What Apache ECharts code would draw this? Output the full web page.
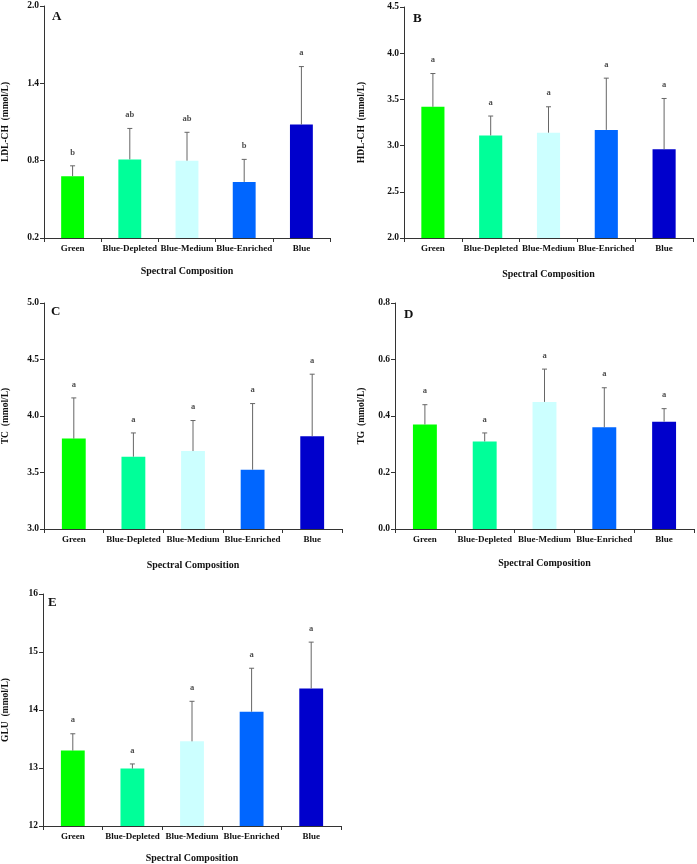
<!DOCTYPE html>
<html><head><meta charset="utf-8">
<script src="https://cdn.jsdelivr.net/npm/echarts@6/dist/echarts.min.js"></script>
<style>html,body{margin:0;padding:0;background:#fff}#c{width:697px;height:864px}</style>
</head><body><div id="c"></div>
<script>
const categories = ['Green','Blue-Depleted','Blue-Medium','Blue-Enriched','Blue'];
const barColors = ['#00ff00','#00ff99','#ccffff','#0066ff','#0000cc'];

const aMeans = [0.68, 0.81, 0.80, 0.635, 1.08];
const aErrTop = [0.76, 1.05, 1.02, 0.81, 1.53];
const aLetters = ['b','ab','ab','b','a'];
const aTicks = [0.2, 0.8, 1.4, 2.0];

const bMeans = [3.42, 3.11, 3.14, 3.17, 2.96];
const bErrTop = [3.78, 3.32, 3.42, 3.73, 3.51];
const bLetters = ['a','a','a','a','a'];
const bTicks = [2.0, 2.5, 3.0, 3.5, 4.0, 4.5];

const cMeans = [3.80, 3.64, 3.69, 3.525, 3.82];
const cErrTop = [4.16, 3.85, 3.96, 4.11, 4.37];
const cLetters = ['a','a','a','a','a'];
const cTicks = [3.0, 3.5, 4.0, 4.5, 5.0];

const dMeans = [0.37, 0.31, 0.45, 0.36, 0.38];
const dErrTop = [0.44, 0.34, 0.566, 0.50, 0.426];
const dLetters = ['a','a','a','a','a'];
const dTicks = [0.0, 0.2, 0.4, 0.6, 0.8];

const eMeans = [13.30, 12.99, 13.46, 13.97, 14.37];
const eErrTop = [13.59, 13.07, 14.15, 14.72, 15.17];
const eLetters = ['a','a','a','a','a'];
const eTicks = [12, 13, 14, 15, 16];

const panels = [
  {id:'A', yName:'LDL-CH  (mmol/L)', means:aMeans, err:aErrTop, letters:aLetters, ticks:aTicks, dec:1,
   grid:{left:40, top:6, width:290, height:232}, yGap:33, xGap:28, tag:[57,17]},
  {id:'B', yName:'HDL-CH  (mmol/L)', means:bMeans, err:bErrTop, letters:bLetters, ticks:bTicks, dec:1,
   grid:{left:404, top:7, width:289, height:231}, yGap:37, xGap:31, tag:[418,19]},
  {id:'C', yName:'TC  (mmol/L)', means:cMeans, err:cErrTop, letters:cLetters, ticks:cTicks, dec:1,
   grid:{left:40, top:303, width:302, height:226}, yGap:33, xGap:31, tag:[56,312]},
  {id:'D', yName:'TG  (mmol/L)', means:dMeans, err:dErrTop, letters:dLetters, ticks:dTicks, dec:1,
   grid:{left:395, top:303, width:299, height:226}, yGap:28, xGap:29, tag:[409,315]},
  {id:'E', yName:'GLU  (mmol/L)', means:eMeans, err:eErrTop, letters:eLetters, ticks:eTicks, dec:0,
   grid:{left:38, top:594, width:303, height:235}, yGap:32, xGap:27, tag:[53,603]}
];

const FONT = '"Liberation Serif", "Times New Roman", serif';
const axisLineStyle = {color:'#333', width:1};

const option = {animation:false, backgroundColor:'#fff', grid:[], xAxis:[], yAxis:[], series:[], graphic:[]};

panels.forEach((p, i) => {
  option.grid.push(Object.assign({containLabel:false}, p.grid));
  option.xAxis.push({
    type:'category', gridIndex:i, data:categories,
    name:'Spectral Composition', nameLocation:'middle', nameGap:p.xGap,
    nameTextStyle:{fontFamily:FONT, fontWeight:'bold', fontSize:10, color:'#111'},
    axisLine:{lineStyle:axisLineStyle},
    axisTick:{show:true, length:4, lineStyle:axisLineStyle},
    axisLabel:{fontFamily:FONT, fontWeight:'bold', fontSize:9, color:'#111', margin:6, interval:0}
  });
  option.yAxis.push({
    type:'value', gridIndex:i, min:p.ticks[0], max:p.ticks[p.ticks.length-1],
    name:p.yName, nameLocation:'middle', nameGap:p.yGap, nameRotate:90,
    nameTextStyle:{fontFamily:FONT, fontWeight:'bold', fontSize:9.5, color:'#111'},
    axisLine:{show:true, lineStyle:axisLineStyle},
    axisTick:{show:true, length:4, lineStyle:axisLineStyle, customValues:p.ticks},
    axisLabel:{fontFamily:FONT, fontWeight:'bold', fontSize:9.5, color:'#111', margin:5,
      customValues:p.ticks, formatter:v => Number(v).toFixed(p.dec)},
    splitLine:{show:false}
  });
  option.series.push({
    type:'bar', xAxisIndex:i, yAxisIndex:i, barWidth:'40%',
    data:p.means.map((v, k) => ({value:v, itemStyle:{color:barColors[k]}})),
    z:2
  });
  option.series.push({
    type:'custom', xAxisIndex:i, yAxisIndex:i, z:3,
    data:p.means.map((v, k) => [k, v, p.err[k]]),
    renderItem:(params, api) => {
      const base = api.coord([api.value(0), api.value(1)]);
      const top = api.coord([api.value(0), api.value(2)]);
      const st = {stroke:'#666', lineWidth:1};
      return {type:'group', children:[
        {type:'line', shape:{x1:base[0], y1:base[1], x2:top[0], y2:top[1]}, style:st},
        {type:'line', shape:{x1:top[0]-2.5, y1:top[1], x2:top[0]+2.5, y2:top[1]}, style:st}
      ]};
    }
  });
  option.series.push({
    type:'scatter', xAxisIndex:i, yAxisIndex:i, symbolSize:0, z:4,
    data:p.err.map((v, k) => ({value:[k, v], label:{formatter:p.letters[k]}})),
    label:{show:true, position:'top', distance:9, fontFamily:FONT, fontWeight:'bold', fontSize:8.5, color:'#222'}
  });
  option.graphic.push({
    type:'text', left:p.tag[0]-5, top:p.tag[1]-7,
    style:{text:p.id, font:'bold 13px ' + FONT, fill:'#111'}
  });
});

const chart = echarts.init(document.getElementById('c'), null, {renderer:'canvas'});
chart.setOption(option);
</script></body></html>
